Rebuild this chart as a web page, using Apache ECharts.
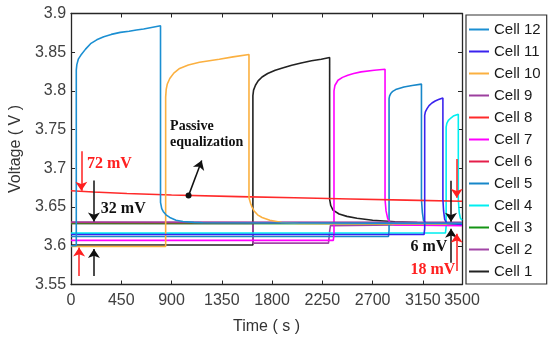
<!DOCTYPE html>
<html>
<head>
<meta charset="utf-8">
<script src="https://cdn.jsdelivr.net/npm/echarts@6/dist/echarts.min.js"></script>
<style>html,body{margin:0;padding:0;background:#fff}#c{width:550px;height:340px}</style>
</head>
<body>
<div id="c"></div>
<script>
// ---- data (time s, voltage V) ----
const xTicks = [0, 450, 900, 1350, 1800, 2250, 2700, 3150, 3500];
const legendOrder = ['Cell 12','Cell 11','Cell 10','Cell 9','Cell 8','Cell 7','Cell 6','Cell 5','Cell 4','Cell 3','Cell 2','Cell 1'];

const cell1 = [[0,3.601],[1628,3.601],[1628,3.794],[1634,3.801],[1651,3.8073],[1675,3.813],[1710,3.818],[1760,3.8225],[1828,3.8268],[1900,3.830],[1976,3.8332],[2060,3.836],[2153,3.8389],[2240,3.841],[2315,3.8432],[2315,3.660],[2325,3.652],[2345,3.646],[2400,3.641],[2470,3.638],[2560,3.6355],[2700,3.633],[2900,3.631],[3100,3.630],[3500,3.6295]];
const cell2 = [[0,3.629],[1628,3.629],[1628,3.6035],[2305,3.6035],[2313,3.606],[2316,3.620],[2322,3.626],[2335,3.628],[3500,3.628]];
const cell3 = [[0,3.629],[3500,3.6285]];
const cell4 = [[0,3.6163],[3352,3.6165],[3358,3.625],[3358,3.7533],[3364,3.758],[3378,3.762],[3400,3.765],[3422,3.7675],[3467,3.770],[3467,3.660],[3475,3.643],[3485,3.636],[3500,3.633]];
const cell5 = [[0,3.612],[2842,3.612],[2847,3.620],[2847,3.790],[2852,3.7935],[2862,3.7966],[2880,3.7995],[2906,3.8017],[2980,3.8051],[3054,3.807],[3137,3.8088],[3137,3.660],[3145,3.643],[3155,3.633],[3175,3.629],[3500,3.628]];
const cell6 = [[0,3.630],[3500,3.6295]];
const cell7 = [[0,3.607],[2348,3.607],[2354,3.615],[2354,3.800],[2362,3.807],[2390,3.8138],[2430,3.8175],[2478,3.8203],[2530,3.8225],[2596,3.8246],[2714,3.8268],[2811,3.828],[2811,3.660],[2820,3.645],[2835,3.635],[2860,3.629],[2900,3.627],[3500,3.626]];
const cell8 = [[0,3.671],[200,3.6695],[500,3.6675],[900,3.6655],[1500,3.6635],[2000,3.662],[2500,3.6605],[3000,3.659],[3500,3.6575]];
const cell9 = [[0,3.6308],[3500,3.6302]];
const cell10 = [[0,3.599],[847,3.599],[847,3.792],[852,3.802],[862,3.809],[884,3.816],[920,3.823],[972,3.829],[1050,3.8335],[1150,3.837],[1327,3.841],[1450,3.844],[1593,3.847],[1593,3.662],[1607,3.655],[1620,3.650],[1637,3.6453],[1670,3.640],[1710,3.6366],[1780,3.633],[1888,3.630],[2035,3.6288],[3500,3.628]];
const cell11 = [[0,3.6145],[3160,3.6145],[3166,3.622],[3166,3.7684],[3172,3.773],[3187,3.7771],[3205,3.781],[3231,3.7844],[3260,3.787],[3290,3.7888],[3329,3.791],[3329,3.660],[3335,3.645],[3345,3.634],[3365,3.629],[3500,3.6275]];
const cell12 = [[0,3.600],[47,3.600],[47,3.827],[52,3.834],[65,3.841],[87,3.846],[130,3.854],[175,3.861],[230,3.866],[293,3.870],[360,3.873],[441,3.8756],[520,3.877],[585,3.8786],[650,3.880],[720,3.882],[801,3.8842],[801,3.656],[812,3.648],[825,3.6444],[850,3.640],[884,3.6366],[940,3.633],[1002,3.6314],[1100,3.6302],[1179,3.6297],[2000,3.6295],[3500,3.629]];

// annotation anchors (data space)
const passiveDot = [1052, 3.6648];
const passiveArrowEnd = [1170, 3.7101];

const cells = [
  {name:'Cell 1', data:cell1, color:'#222222'},
  {name:'Cell 2', data:cell2, color:'#a245a6'},
  {name:'Cell 3', data:cell3, color:'#149414'},
  {name:'Cell 4', data:cell4, color:'#00eef0'},
  {name:'Cell 5', data:cell5, color:'#1787c9'},
  {name:'Cell 6', data:cell6, color:'#e51e4a'},
  {name:'Cell 7', data:cell7, color:'#ff00ff'},
  {name:'Cell 8', data:cell8, color:'#ff2a2a'},
  {name:'Cell 9', data:cell9, color:'#9c3f9e'},
  {name:'Cell 10', data:cell10, color:'#fbb040'},
  {name:'Cell 11', data:cell11, color:'#3a23ee'},
  {name:'Cell 12', data:cell12, color:'#1b8fd2'}
];

const axisColor = '#262626';
const labelFont = {fontFamily:'Liberation Sans, Arial, sans-serif', fontSize:16, color:'#404040'};

function arrow(from, to, color) {
  return [{coord: from, lineStyle:{color:color}}, {coord: to}];
}
function txt(coord, text, color, size) {
  return {coord: coord, symbol:'circle', symbolSize:0,
    label:{show:true, position:'right', distance:0, formatter:text, color:color,
      fontFamily:'Liberation Serif, Times New Roman, serif', fontWeight:'bold', fontSize:size, lineHeight:16, align:'left'}};
}

const series = cells.map(c => ({
  name: c.name, type:'line', data:c.data, showSymbol:false, symbol:'none',
  lineStyle:{width:1.6, color:c.color}, itemStyle:{color:c.color},
  emphasis:{disabled:true}, animation:false, z:2
}));

series.push({
  name:'annot', type:'line', data:[], animation:false, silent:true, z:5,
  markLine:{
    silent:true, animation:false, symbol:['none','arrow'], symbolSize:9,
    label:{show:false}, lineStyle:{type:'solid', width:1.5},
    data:[
      arrow([92,3.7221],[92,3.6712],'#ff2020'),
      arrow([72,3.561],[72,3.5977],'#ff2020'),
      arrow([205,3.6842],[205,3.6314],'#111111'),
      arrow([205,3.561],[205,3.596],'#111111'),
      arrow([3402,3.684],[3402,3.631],'#111111'),
      arrow([3402,3.578],[3402,3.622],'#111111'),
      arrow([3453,3.712],[3453,3.662],'#ff2020'),
      arrow([3453,3.5675],[3453,3.6155],'#ff2020'),
      arrow(passiveDot, passiveArrowEnd, '#111111')
    ]
  },
  markPoint:{
    silent:true, animation:false,
    data:[
      {coord: passiveDot, symbol:'circle', symbolSize:6, itemStyle:{color:'#111'}, label:{show:false}},
      txt([143,3.7062],'72 mV','#ff2020',16),
      txt([267,3.6479],'32 mV','#111111',16),
      txt([3039,3.5986],'6 mV','#111111',16),
      txt([3039,3.5688],'18 mV','#ff2020',16),
      txt([887,3.7438],'Passive\nequalization','#111111',14)
    ]
  }
});

const chart = echarts.init(document.getElementById('c'), null, {renderer:'canvas'});
chart.setOption({
  animation:false,
  backgroundColor:'#ffffff',
  grid:{left:66.5, right:88, top:13.5, bottom:55.5, containLabel:false},
  legend:{
    data: legendOrder, orient:'vertical', left:466, top:15,
    icon:'rect', itemWidth:20, itemHeight:2, itemGap:7,
    borderColor:'#333', borderWidth:1.2, padding:[7,6,5,3],
    textStyle:{fontFamily:'Liberation Sans, Arial, sans-serif', fontSize:15, color:'#1a1a1a'},
    selectedMode:false
  },
  xAxis:[
    {type:'value', min:0, max:3500, interval:450, position:'bottom',
     axisLine:{show:true, onZero:false, lineStyle:{color:axisColor, width:1.3}},
     axisTick:{show:true, inside:true, length:4, lineStyle:{color:axisColor}, customValues:xTicks},
     axisLabel:Object.assign({margin:8, customValues:xTicks, interval:0, showMaxLabel:true, showMinLabel:true, hideOverlap:false,
       formatter: v => String(Math.round(v))}, labelFont),
     splitLine:{show:false},
     name:'Time ( s )', nameLocation:'middle', nameGap:34,
     nameTextStyle:{fontFamily:'Liberation Sans, Arial, sans-serif', fontSize:16, color:'#333'}},
    {type:'value', min:0, max:3500, interval:450, position:'top',
     axisLine:{show:true, onZero:false, lineStyle:{color:axisColor, width:1.3}},
     axisTick:{show:true, inside:true, length:4, lineStyle:{color:axisColor}, customValues:xTicks},
     axisLabel:{show:false}, splitLine:{show:false}}
  ],
  yAxis:[
    {type:'value', min:3.55, max:3.9, interval:0.05, position:'left',
     axisLine:{show:true, onZero:false, lineStyle:{color:axisColor, width:1.3}},
     axisTick:{show:true, inside:true, length:4, lineStyle:{color:axisColor}},
     axisLabel:Object.assign({margin:5, formatter: v => String(+(+v).toFixed(2))}, labelFont),
     splitLine:{show:false},
     name:'Voltage ( V )', nameLocation:'middle', nameGap:43, nameRotate:90,
     nameTextStyle:{fontFamily:'Liberation Sans, Arial, sans-serif', fontSize:16, color:'#333'}},
    {type:'value', min:3.55, max:3.9, interval:0.05, position:'right',
     axisLine:{show:true, onZero:false, lineStyle:{color:axisColor, width:1.3}},
     axisTick:{show:true, inside:true, length:4, lineStyle:{color:axisColor}},
     axisLabel:{show:false}, splitLine:{show:false}}
  ],
  series: series
});
</script>
</body>
</html>
